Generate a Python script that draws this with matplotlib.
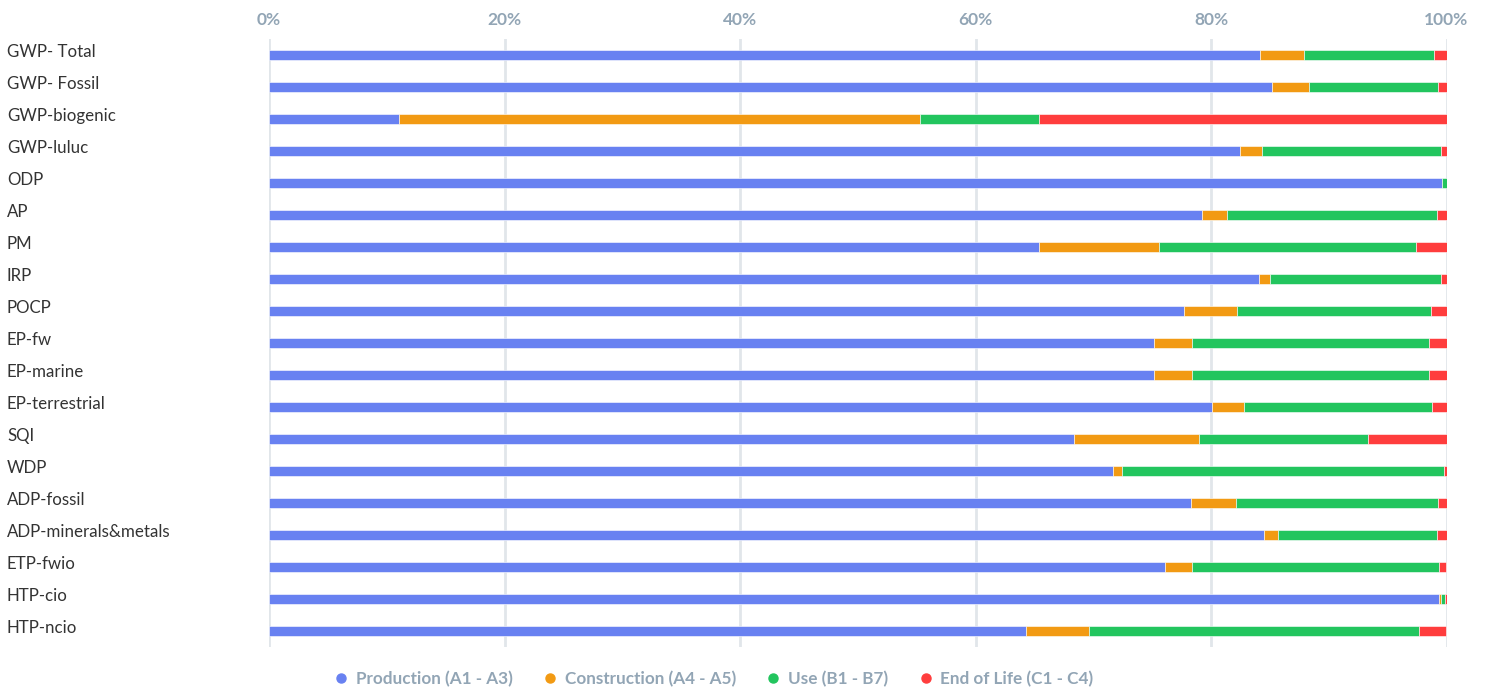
import matplotlib
matplotlib.use("Agg")
import matplotlib.pyplot as plt
from matplotlib import transforms
from matplotlib.lines import Line2D
import numpy as np

categories = ["GWP- Total", "GWP- Fossil", "GWP-biogenic", "GWP-luluc", "ODP", "AP", "PM",
              "IRP", "POCP", "EP-fw", "EP-marine", "EP-terrestrial", "SQI", "WDP",
              "ADP-fossil", "ADP-minerals&metals", "ETP-fwio", "HTP-cio", "HTP-ncio"]
production = [84.2, 85.2, 11.0, 82.5, 99.6, 79.2, 65.4, 84.1, 77.7, 75.2, 75.2, 80.1, 68.4, 71.7,
              78.3, 84.5, 76.1, 99.4, 64.3]
construction = [3.7, 3.1, 44.3, 1.8, 0.0, 2.2, 10.2, 0.9, 4.5, 3.2, 3.2, 2.7, 10.6, 0.7,
                3.8, 1.2, 2.3, 0.1, 5.3]
use = [11.0, 11.0, 10.1, 15.2, 0.4, 17.8, 21.8, 14.5, 16.5, 20.1, 20.1, 16.0, 14.3, 27.4,
       17.2, 13.5, 21.0, 0.4, 28.1]
end_of_life = [1.1, 0.7, 34.6, 0.5, 0.0, 0.8, 2.6, 0.5, 1.3, 1.5, 1.5, 1.2, 6.7, 0.2,
               0.7, 0.8, 0.6, 0.1, 2.3]
series_names = ["Production (A1 - A3)", "Construction (A4 - A5)", "Use (B1 - B7)", "End of Life (C1 - C4)"]
series_colors = ["#6881F1", "#F29A13", "#22C55E", "#FF3D3D"]
tick_values = [0, 20, 40, 60, 80, 100]
tick_labels = ["0%", "20%", "40%", "60%", "80%", "100%"]

plt.rcParams['font.family'] = ['Lato', 'DejaVu Sans']

W, H = 1486, 688
fig = plt.figure(figsize=(W / 100, H / 100), dpi=100)
ax = fig.add_axes([269 / W, 1 - 647 / H, (1446.5 - 269) / W, 608 / H])

data = np.array([production, construction, use, end_of_life], dtype=float)
totals = data.sum(axis=0)
pct = data / totals * 100
y = np.arange(len(categories))
left = np.zeros(len(categories))
for vals, name, col in zip(pct, series_names, series_colors):
    ax.barh(y, vals, left=left, height=0.34, color=col, edgecolor='white',
            linewidth=0.4, label=name, zorder=3)
    left += vals

ax.set_xlim(0, 100)
ax.set_ylim(len(categories) - 0.5, -0.5)
for s in ax.spines.values():
    s.set_visible(False)
ax.set_xticks(tick_values)
ax.set_xticklabels(tick_labels)
ax.xaxis.tick_top()
ax.tick_params(axis='x', length=0, pad=8, labelsize=12.5, labelcolor='#92A5B5')
for lab in ax.get_xticklabels():
    lab.set_fontweight('bold')
ax.grid(axis='x', color='#E1E6EA', linewidth=2, zorder=0)
ax.set_axisbelow(True)
ax.set_yticks([])

trans = transforms.blended_transform_factory(fig.transFigure, ax.transData)
offset = transforms.ScaledTranslation(0, 3 / 100, fig.dpi_scale_trans)
for yi, cat in zip(y, categories):
    fig.text(7 / W, yi, cat, transform=trans + offset, ha='left', va='center',
             fontsize=12.2, color='#333333')

handles = [Line2D([0], [0], marker='o', linestyle='none', markersize=6.5,
                  markerfacecolor=c, markeredgecolor=c) for c in series_colors]
leg = fig.legend(handles, series_names, loc='center', bbox_to_anchor=(713 / W, 1 - 679 / H),
                 ncol=4, frameon=False, handletextpad=0.35, columnspacing=1.7,
                 handlelength=1.0, prop={'size': 12.3, 'weight': 'bold'})
for t in leg.get_texts():
    t.set_color('#92A5B5')

fig.savefig("out.png", dpi=100)
